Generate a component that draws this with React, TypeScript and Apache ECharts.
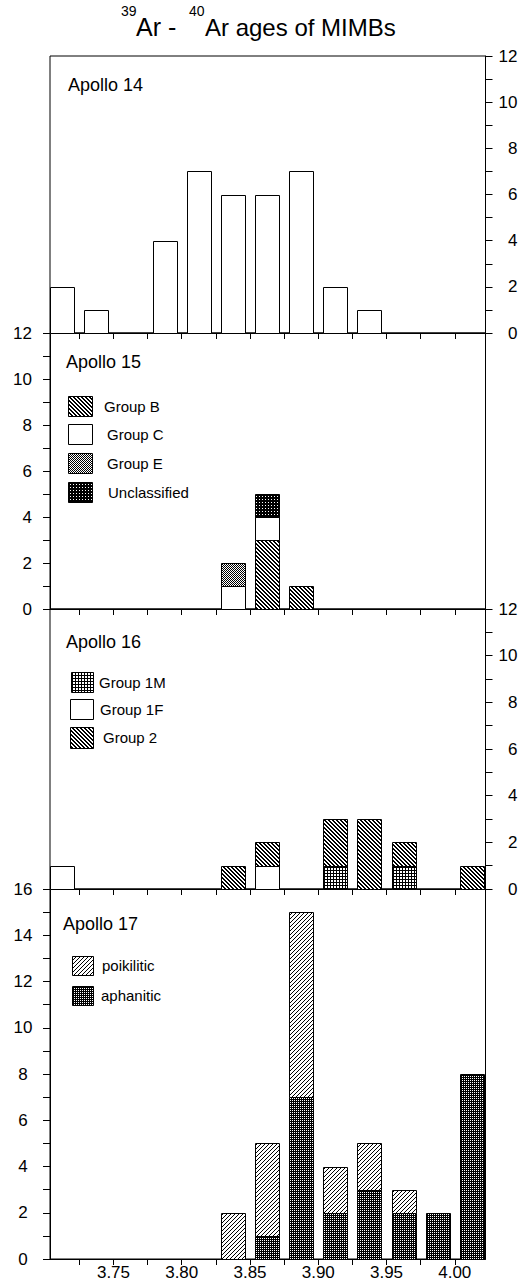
import React, { useEffect, useRef } from "react";
import * as echarts from "echarts";

// ---------- data ----------
const binCenters = [3.7125, 3.7375, 3.7625, 3.7875, 3.8125, 3.8375, 3.8625, 3.8875, 3.9125, 3.9375, 3.9625, 3.9875, 4.0125];
const xTickValues = [3.725, 3.75, 3.775, 3.8, 3.825, 3.85, 3.875, 3.9, 3.925, 3.95, 3.975, 4.0];
const xLabelValues = [3.75, 3.8, 3.85, 3.9, 3.95, 4.0];
const yTicks12 = [0, 1, 2, 3, 4, 5, 6, 7, 8, 9, 10, 11, 12];
const yLabels12 = [0, 2, 4, 6, 8, 10, 12];
const yTicks16 = [0, 1, 2, 3, 4, 5, 6, 7, 8, 9, 10, 11, 12, 13, 14, 15, 16];
const yLabels16 = [0, 2, 4, 6, 8, 10, 12, 14, 16];

const apollo14All = [2, 1, 0, 4, 7, 6, 6, 7, 2, 1, 0, 0, 0];

const apollo15GroupB = [0, 0, 0, 0, 0, 0, 3, 1, 0, 0, 0, 0, 0];
const apollo15GroupC = [0, 0, 0, 0, 0, 1, 1, 0, 0, 0, 0, 0, 0];
const apollo15GroupE = [0, 0, 0, 0, 0, 1, 0, 0, 0, 0, 0, 0, 0];
const apollo15Unclassified = [0, 0, 0, 0, 0, 0, 1, 0, 0, 0, 0, 0, 0];

const apollo16Group1M = [0, 0, 0, 0, 0, 0, 0, 0, 1, 0, 1, 0, 0];
const apollo16Group1F = [1, 0, 0, 0, 0, 0, 1, 0, 0, 0, 0, 0, 0];
const apollo16Group2 = [0, 0, 0, 0, 0, 1, 1, 0, 2, 3, 1, 0, 1];

const apollo17Aphanitic = [0, 0, 0, 0, 0, 0, 1, 7, 2, 3, 2, 2, 8];
const apollo17Poikilitic = [0, 0, 0, 0, 0, 2, 4, 8, 2, 2, 1, 0, 0];

const panelNames = ["Apollo 14", "Apollo 15", "Apollo 16", "Apollo 17"];

// ---------- layout ----------
const FONT = "Arial, 'Liberation Sans', Helvetica, sans-serif";
const X_MIN = 3.7035;
const X_MAX = 4.0225;
const GRID_LEFT = 50;
const GRID_WIDTH = 435.5;
const BAR_W = 24;
const gridTops = [56, 333, 609, 889];
const gridBottoms = [333, 609, 889, 1259];

function makePattern(size: number, isBlack: (x: number, y: number) => boolean) {
  const c = document.createElement("canvas");
  c.width = size;
  c.height = size;
  const ctx = c.getContext("2d")!;
  ctx.fillStyle = "#ffffff";
  ctx.fillRect(0, 0, size, size);
  ctx.fillStyle = "#000000";
  for (let y = 0; y < size; y++) {
    for (let x = 0; x < size; x++) {
      if (isBlack(x, y)) ctx.fillRect(x, y, 1, 1);
    }
  }
  return { image: c, repeat: "repeat", imageWidth: size, imageHeight: size };
}

function stackSegments(layers: number[][]) {
  const base = binCenters.map(() => 0);
  return layers.map((layer) => {
    const segs: number[][] = [];
    layer.forEach((v, i) => {
      if (v > 0) {
        segs.push([binCenters[i], base[i], base[i] + v]);
        base[i] += v;
      }
    });
    return segs;
  });
}

export default function App() {
  const ref = useRef<HTMLDivElement>(null);

  useEffect(() => {
    if (!ref.current) return;
    const chart = echarts.init(ref.current, undefined, { renderer: "svg" });

    const P = {
      white: "#ffffff",
      back: makePattern(4, (x, y) => ((x - y + 8) % 4 === 0 || (x - y + 8) % 4 === 1)),
      fwd: makePattern(4, (x, y) => (x + y) % 4 === 0),
      checker: makePattern(2, (x, y) => (x + y) % 2 === 0),
      blackDots: makePattern(3, (x, y) => !(x === 1 && y === 1)),
      darkDots: makePattern(2, (x, y) => !(x === 0 && y === 0)),
      grid: makePattern(3, (x, y) => x === 0 || y === 0),
    };

    const panels = [
      { layers: [apollo14All], fills: [P.white], names: ["all"] },
      {
        layers: [apollo15GroupB, apollo15GroupC, apollo15GroupE, apollo15Unclassified],
        fills: [P.back, P.white, P.checker, P.blackDots],
        names: ["Group B", "Group C", "Group E", "Unclassified"],
      },
      {
        layers: [apollo16Group1M, apollo16Group1F, apollo16Group2],
        fills: [P.grid, P.white, P.back],
        names: ["Group 1M", "Group 1F", "Group 2"],
      },
      {
        layers: [apollo17Aphanitic, apollo17Poikilitic],
        fills: [P.darkDots, P.fwd],
        names: ["aphanitic", "poikilitic"],
      },
    ];

    const grids = gridTops.map((t, i) => ({
      left: GRID_LEFT,
      top: t,
      width: GRID_WIDTH,
      height: gridBottoms[i] - t,
      show: true,
      borderColor: "#000",
      borderWidth: 1,
      backgroundColor: "transparent",
      containLabel: false,
    }));

    const xAxes = gridTops.map((_, i) => ({
      type: "value",
      gridIndex: i,
      min: X_MIN,
      max: X_MAX,
      axisLine: { show: true, onZero: false, lineStyle: { color: "#000", width: 1 } },
      axisTick: { show: true, inside: false, length: 6, customValues: xTickValues, lineStyle: { color: "#000", width: 1 } },
      axisLabel:
        i === 3
          ? { show: true, customValues: xLabelValues, formatter: (v: number) => v.toFixed(2), fontSize: 17, color: "#000", fontFamily: FONT, margin: 5 }
          : { show: false },
      splitLine: { show: false },
    }));

    const yAxes = gridTops.map((_, i) => {
      const isRight = i === 0 || i === 2;
      const max = i === 3 ? 16 : 12;
      return {
        type: "value",
        gridIndex: i,
        position: isRight ? "right" : "left",
        min: 0,
        max,
        axisLine: { show: true, lineStyle: { color: "#000", width: 1 } },
        axisTick: { show: true, inside: false, length: 7, customValues: i === 3 ? yTicks16 : yTicks12, lineStyle: { color: "#000", width: 1 } },
        axisLabel: {
          show: true,
          customValues: i === 3 ? yLabels16 : yLabels12,
          fontSize: 17,
          color: "#000",
          fontFamily: FONT,
          align: isRight ? "right" : i === 3 ? "center" : "right",
          margin: isRight ? 32 : i === 3 ? 27 : 18,
        },
        splitLine: { show: false },
      };
    });

    const series: any[] = [];
    panels.forEach((p, pi) => {
      const segs = stackSegments(p.layers);
      segs.forEach((data, li) => {
        const fill = p.fills[li];
        series.push({
          type: "custom",
          name: p.names[li],
          xAxisIndex: pi,
          yAxisIndex: pi,
          data,
          encode: { x: 0, y: 2 },
          renderItem: (params: any, api: any) => {
            const x = api.value(0);
            const b = api.value(1);
            const t = api.value(2);
            const pt = api.coord([x, t]);
            const pb = api.coord([x, b]);
            const left = Math.round(pt[0] - BAR_W / 2) + 0.5;
            const top = Math.round(pt[1]) + 0.5;
            const bottom = Math.round(pb[1]) + 0.5;
            return {
              type: "rect",
              shape: { x: left, y: top, width: BAR_W, height: bottom - top },
              style: { fill, stroke: "#000", lineWidth: 1 },
            };
          },
        });
      });
    });

    const txt = (text: string, x: number, y: number, fontSize: number) => ({
      type: "text",
      silent: true,
      style: {
        text,
        x,
        y,
        fill: "#000",
        fontSize,
        fontFamily: FONT,
        align: "left",
        verticalAlign: "middle",
        textAlign: "left",
        textVerticalAlign: "middle",
      },
    });
    const swatch = (x: number, y: number, w: number, h: number, fill: any) => ({
      type: "rect",
      silent: true,
      shape: { x: x + 0.5, y: y + 0.5, width: w, height: h },
      style: { fill, stroke: "#000", lineWidth: 1 },
    });

    const graphics: any[] = [
      // title
      txt("39", 121, 11, 14),
      txt("Ar -", 136, 27, 25),
      txt("40", 189, 11, 14),
      txt("Ar ages of MIMBs", 205, 27, 24),
      // panel names
      txt(panelNames[0], 68, 85, 18),
      txt(panelNames[1], 66, 362, 18),
      txt(panelNames[2], 66, 642, 18),
      txt(panelNames[3], 63, 924, 18),
      // Apollo 15 legend
      swatch(68, 396, 24, 20, P.back),
      txt("Group B", 104, 406, 15),
      swatch(68, 424, 24, 20, P.white),
      txt("Group C", 107, 434, 15),
      swatch(68, 453, 24, 20, P.checker),
      txt("Group E", 107, 463, 15),
      swatch(68, 482, 24, 20, P.blackDots),
      txt("Unclassified", 108, 492, 15),
      // Apollo 16 legend
      swatch(71, 672, 22, 20, P.grid),
      txt("Group 1M", 99, 682, 15),
      swatch(70, 699, 23, 20, P.white),
      txt("Group 1F", 100, 709, 15),
      swatch(70, 727, 23, 21, P.back),
      txt("Group 2", 103, 737, 15),
      // Apollo 17 legend
      swatch(72, 956, 21, 19, P.fwd),
      txt("poikilitic", 102, 965, 15),
      swatch(72, 986, 21, 19, P.darkDots),
      txt("aphanitic", 101, 995, 15),
    ];

    chart.setOption({
      animation: false,
      backgroundColor: "#ffffff",
      textStyle: { fontFamily: FONT },
      grid: grids,
      xAxis: xAxes,
      yAxis: yAxes,
      series,
      graphic: graphics,
    } as any);

    return () => chart.dispose();
  }, []);

  return (
    <div
      ref={ref}
      style={{ position: "absolute", left: 0, top: 0, width: 522, height: 1285, background: "#fff" }}
    />
  );
}
